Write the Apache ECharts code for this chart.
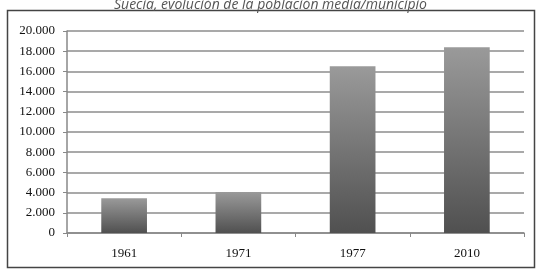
<!DOCTYPE html>
<html><head><meta charset="utf-8">
<script src="https://cdn.jsdelivr.net/npm/echarts@6/dist/echarts.min.js"></script>
<style>html,body{margin:0;padding:0;background:#fff}#c{width:541px;height:272px}</style>
</head><body><div id="c"></div>
<script>
const categories = ['1961', '1971', '1977', '2010'];
const poblacionMedia = [3450, 4050, 16500, 18400];
const yTicks = { min: 0, max: 20000, interval: 2000 };
const titleText = 'Suecia, evolución de la población media/municipio';

const chart = echarts.init(document.getElementById('c'));
chart.setOption({
  animation: false,
  title: {
    text: titleText, left: 'center', top: -7,
    textStyle: { fontFamily: 'Open Sans', fontStyle: 'italic', fontWeight: 'normal', fontSize: 14, color: '#555' }
  },
  graphic: [{
    type: 'rect', shape: { x: 7.5, y: 10.5, width: 527, height: 257 },
    style: { fill: 'none', stroke: '#444', lineWidth: 1.5 }, silent: true
  }],
  grid: { left: 67, right: 17, top: 31, bottom: 39 },
  xAxis: {
    type: 'category', data: categories,
    axisLine: { lineStyle: { color: '#888', width: 1.5 } },
    axisTick: { show: true, length: 4, lineStyle: { color: '#888' } },
    axisLabel: { margin: 14, fontFamily: 'Liberation Serif', fontSize: 13, color: '#111' }
  },
  yAxis: {
    type: 'value', min: yTicks.min, max: yTicks.max, interval: yTicks.interval,
    axisLine: { show: true, lineStyle: { color: '#888', width: 1.5 } },
    axisTick: { show: true, length: 4, lineStyle: { color: '#888' } },
    splitLine: { lineStyle: { color: '#8c8c8c', width: 1.5 } },
    axisLabel: {
      margin: 12, fontFamily: 'Liberation Serif', fontSize: 13, color: '#111',
      formatter: v => v.toString().replace(/\B(?=(\d{3})+(?!\d))/g, '.')
    }
  },
  series: [{
    type: 'bar', data: poblacionMedia, barWidth: '40%',
    itemStyle: {
      color: new echarts.graphic.LinearGradient(0, 0, 0, 1, [
        { offset: 0, color: '#9a9a9a' }, { offset: 1, color: '#505050' }
      ])
    }
  }]
});
</script></body></html>
